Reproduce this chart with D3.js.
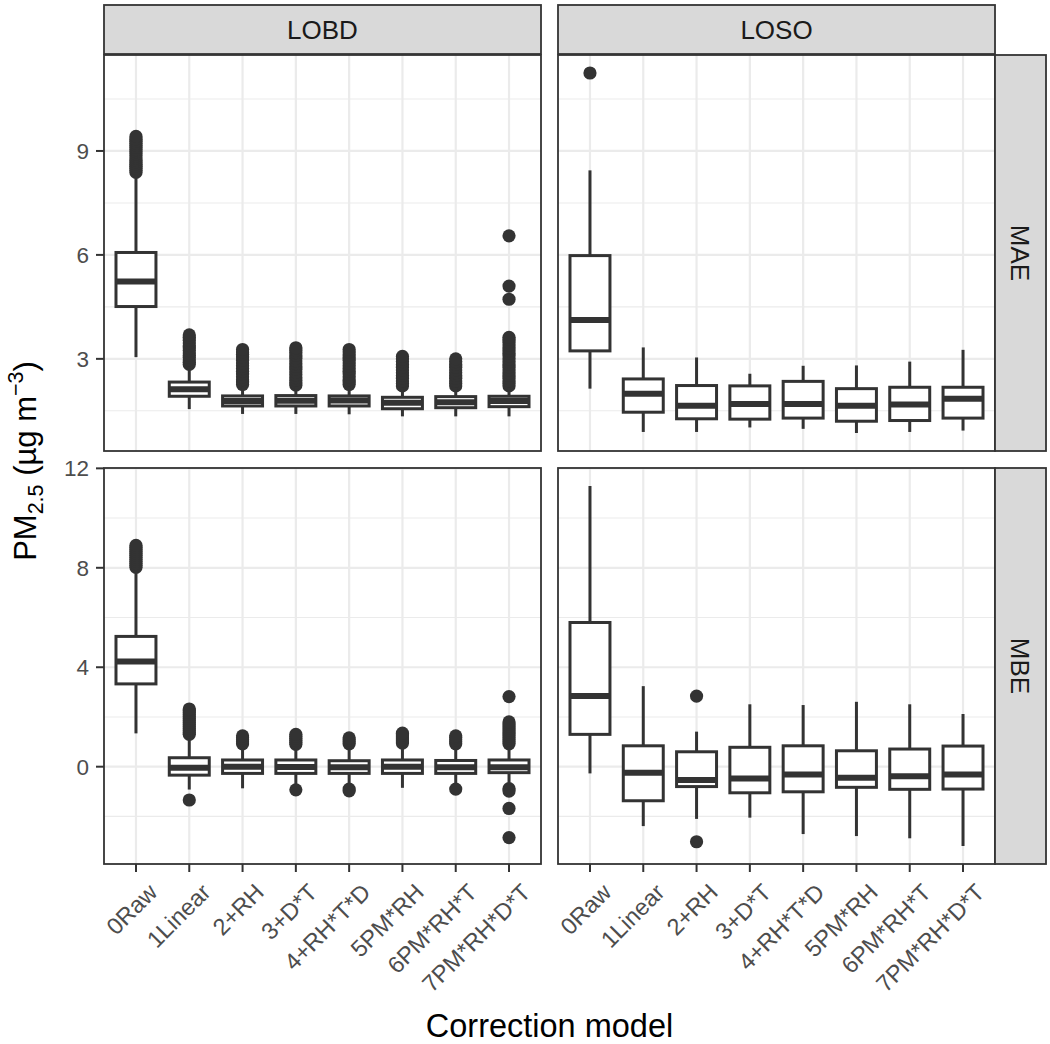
<!DOCTYPE html>
<html><head><meta charset="utf-8">
<script src="https://cdn.jsdelivr.net/npm/d3@7"></script>
<style>body{margin:0;background:#fff}</style>
</head><body>
<svg id="chart" width="1050" height="1044"></svg>
<script>
// ---------------- DATA ----------------
const categories = ["0Raw","1Linear","2+RH","3+D*T","4+RH*T*D","5PM*RH","6PM*RH*T","7PM*RH*D*T"];
const colFacets = ["LOBD","LOSO"];
const rowFacets = ["MAE","MBE"];
const yTicksMAE = [3, 6, 9];
const yMinorMAE = [1.5, 4.5, 7.5, 10.5];
const yTicksMBE = [0, 4, 8, 12];
const yMinorMBE = [-2, 2, 6, 10];

// LOBD – MAE
const lobdMaeLow  = [3.05, 1.55, 1.41, 1.41, 1.40, 1.34, 1.34, 1.34];
const lobdMaeQ1   = [4.51, 1.92, 1.64, 1.64, 1.64, 1.56, 1.59, 1.62];
const lobdMaeMed  = [5.23, 2.12, 1.78, 1.79, 1.80, 1.73, 1.75, 1.78];
const lobdMaeQ3   = [6.07, 2.33, 1.93, 1.94, 1.93, 1.89, 1.91, 1.92];
const lobdMaeHigh = [8.33, 2.78, 2.20, 2.20, 2.20, 2.17, 2.17, 2.17];
const lobdMaeOut  = [
  [8.38,8.44,8.5,8.56,8.62,8.68,8.74,8.8,8.86,8.92,8.98,9.04,9.1,9.16,9.22,9.28,9.34,9.42],
  [2.84,2.9,2.97,3.04,3.1,3.17,3.24,3.31,3.38,3.46,3.54,3.62,3.69],
  [2.26,2.33,2.4,2.48,2.56,2.64,2.72,2.8,2.88,2.96,3.05,3.13,3.2,3.27],
  [2.24,2.31,2.38,2.46,2.54,2.62,2.7,2.78,2.86,2.94,3.02,3.1,3.18,3.25,3.32],
  [2.26,2.33,2.4,2.48,2.56,2.64,2.72,2.8,2.88,2.96,3.04,3.12,3.2,3.27],
  [2.22,2.29,2.36,2.44,2.52,2.6,2.68,2.76,2.84,2.92,3.0,3.07],
  [2.22,2.29,2.36,2.44,2.52,2.6,2.68,2.76,2.84,2.92,3.0],
  [2.22,2.29,2.36,2.44,2.52,2.6,2.68,2.76,2.84,2.92,3.0,3.08,3.16,3.24,3.32,3.4,3.48,3.56,3.62,4.72,5.1,6.55]
];

// LOSO – MAE
const losoMaeLow  = [2.14, 0.89, 0.89, 1.02, 0.98, 0.86, 0.89, 0.93];
const losoMaeQ1   = [3.23, 1.46, 1.27, 1.26, 1.29, 1.20, 1.22, 1.29];
const losoMaeMed  = [4.12, 1.99, 1.65, 1.70, 1.70, 1.65, 1.68, 1.85];
const losoMaeQ3   = [5.98, 2.42, 2.23, 2.22, 2.35, 2.14, 2.18, 2.18];
const losoMaeHigh = [8.44, 3.33, 3.04, 2.57, 2.80, 2.81, 2.92, 3.26];
const losoMaeOut  = [[11.25],[],[],[],[],[],[],[]];

// LOBD – MBE
const lobdMbeLow  = [1.34, -0.92, -0.87, -0.75, -0.78, -0.85, -0.72, -0.72];
const lobdMbeQ1   = [3.33, -0.34, -0.27, -0.27, -0.27, -0.27, -0.27, -0.24];
const lobdMbeMed  = [4.23, -0.04, 0.00, -0.01, -0.02, 0.00, -0.02, -0.02];
const lobdMbeQ3   = [5.24, 0.36, 0.27, 0.27, 0.24, 0.27, 0.25, 0.27];
const lobdMbeHigh = [7.95, 1.15, 0.75, 0.78, 0.75, 0.82, 0.75, 0.80];
const lobdMbeOut  = [
  [8.02,8.1,8.18,8.26,8.34,8.42,8.5,8.58,8.66,8.74,8.82,8.9],
  [1.3,1.38,1.46,1.54,1.62,1.7,1.78,1.86,1.94,2.02,2.1,2.18,2.26,2.32,-1.34],
  [0.92,1.0,1.08,1.16,1.24],
  [0.9,0.98,1.06,1.14,1.22,1.3,-0.93],
  [0.92,1.0,1.08,1.16,-0.9,-0.97],
  [0.95,1.03,1.11,1.19,1.27,1.35],
  [0.92,1.0,1.08,1.17,1.24,-0.9],
  [0.92,1.0,1.08,1.16,1.24,1.32,1.4,1.48,1.56,1.64,1.72,1.8,2.82,-0.88,-0.98,-1.68,-2.85]
];

// LOSO – MBE
const losoMbeLow  = [-0.27, -2.39, -2.10, -2.05, -2.71, -2.79, -2.88, -3.19];
const losoMbeQ1   = [1.30, -1.37, -0.80, -1.05, -1.01, -0.83, -0.91, -0.90];
const losoMbeMed  = [2.84, -0.24, -0.54, -0.47, -0.31, -0.44, -0.38, -0.31];
const losoMbeQ3   = [5.80, 0.84, 0.60, 0.78, 0.84, 0.64, 0.71, 0.83];
const losoMbeHigh = [11.29, 3.24, 1.41, 2.51, 2.48, 2.61, 2.51, 2.12];
const losoMbeOut  = [[],[],[2.84,-3.02],[],[],[],[],[]];

// ---------------- LAYOUT ----------------
const FONT = "'Liberation Sans', Arial, Helvetica, sans-serif";
const colX = [104, 558];
const rowY = [55, 468];
const panelW = 437, panelH = 396;
const stripTop = 5, stripH = 49;
const rStripX = 995, rStripW = 51;
const dark = "#333333", grid = "#ebebeb";

function makePanel(low,q1,med,q3,high,out){
  return categories.map((c,i)=>({cat:c,i,low:low[i],q1:q1[i],med:med[i],q3:q3[i],high:high[i],out:out ? out[i] : []}));
}
const panels = [
  {col:0,row:0,data:makePanel(lobdMaeLow,lobdMaeQ1,lobdMaeMed,lobdMaeQ3,lobdMaeHigh,lobdMaeOut)},
  {col:1,row:0,data:makePanel(losoMaeLow,losoMaeQ1,losoMaeMed,losoMaeQ3,losoMaeHigh,losoMaeOut)},
  {col:0,row:1,data:makePanel(lobdMbeLow,lobdMbeQ1,lobdMbeMed,lobdMbeQ3,lobdMbeHigh,lobdMbeOut)},
  {col:1,row:1,data:makePanel(losoMbeLow,losoMbeQ1,losoMbeMed,losoMbeQ3,losoMbeHigh,losoMbeOut)}
];

// y scales (free per row, ggplot 5% expansion)
const yScales = [0,1].map(r=>{
  const vals = [];
  panels.filter(p=>p.row===r).forEach(p=>p.data.forEach(d=>{vals.push(d.low,d.high,...d.out);}));
  const [mn,mx] = d3.extent(vals);
  const pad = (mx-mn)*0.05;
  return d3.scaleLinear().domain([mn-pad,mx+pad]).range([panelH,0]);
});
const yMajor = [yTicksMAE, yTicksMBE];
const yMinor = [yMinorMAE, yMinorMBE];

// discrete x (ggplot expand 0.6)
const x = d3.scaleLinear().domain([-0.6, categories.length - 1 + 0.6]).range([0, panelW]);
const boxHalf = (x(0.375) - x(0));

const svg = d3.select("#chart");
svg.append("rect").attr("width",1050).attr("height",1044).attr("fill","#fff");

panels.forEach(p=>{
  const y = yScales[p.row];
  const g = svg.append("g").attr("transform",`translate(${colX[p.col]},${rowY[p.row]})`);
  g.append("rect").attr("width",panelW).attr("height",panelH).attr("fill","#fff");
  g.selectAll(".minor").data(yMinor[p.row]).enter().append("line")
    .attr("x1",0).attr("x2",panelW).attr("y1",d=>y(d)).attr("y2",d=>y(d))
    .attr("stroke",grid).attr("stroke-width",1.1);
  g.selectAll(".major").data(yMajor[p.row]).enter().append("line")
    .attr("x1",0).attr("x2",panelW).attr("y1",d=>y(d)).attr("y2",d=>y(d))
    .attr("stroke",grid).attr("stroke-width",2.2);
  g.selectAll(".vgrid").data(categories).enter().append("line")
    .attr("x1",(d,i)=>x(i)).attr("x2",(d,i)=>x(i)).attr("y1",0).attr("y2",panelH)
    .attr("stroke",grid).attr("stroke-width",2.2);

  const bx = g.selectAll(".box").data(p.data).enter().append("g");
  bx.each(function(d){
    d3.select(this).selectAll("circle").data(d.out).enter().append("circle")
      .attr("cx",x(d.i)).attr("cy",v=>y(v)).attr("r",6.6).attr("fill",dark);
  });
  bx.append("line").attr("x1",d=>x(d.i)).attr("x2",d=>x(d.i))
    .attr("y1",d=>y(d.q3)).attr("y2",d=>y(d.high)).attr("stroke",dark).attr("stroke-width",3);
  bx.append("line").attr("x1",d=>x(d.i)).attr("x2",d=>x(d.i))
    .attr("y1",d=>y(d.q1)).attr("y2",d=>y(d.low)).attr("stroke",dark).attr("stroke-width",3);
  bx.append("rect").attr("x",d=>x(d.i)-boxHalf).attr("width",boxHalf*2)
    .attr("y",d=>y(d.q3)).attr("height",d=>y(d.q1)-y(d.q3))
    .attr("fill","#fff").attr("stroke",dark).attr("stroke-width",3);
  bx.append("line").attr("x1",d=>x(d.i)-boxHalf).attr("x2",d=>x(d.i)+boxHalf)
    .attr("y1",d=>y(d.med)).attr("y2",d=>y(d.med)).attr("stroke",dark).attr("stroke-width",6);
  g.append("rect").attr("width",panelW).attr("height",panelH).attr("fill","none")
    .attr("stroke",dark).attr("stroke-width",1.8);

  if (p.col===0){
    yMajor[p.row].forEach(t=>{
      svg.append("line").attr("x1",colX[0]-8).attr("x2",colX[0])
        .attr("y1",rowY[p.row]+y(t)).attr("y2",rowY[p.row]+y(t)).attr("stroke",dark).attr("stroke-width",2);
      svg.append("text").attr("x",colX[0]-15).attr("y",rowY[p.row]+y(t)).attr("dy","0.36em")
        .attr("text-anchor","end").attr("font-family",FONT).attr("font-size",22.5).attr("fill","#4d4d4d").text(t);
    });
  }
  if (p.row===1){
    categories.forEach((c,i)=>{
      const xx = colX[p.col]+x(i);
      svg.append("line").attr("x1",xx).attr("x2",xx).attr("y1",rowY[1]+panelH).attr("y2",rowY[1]+panelH+8)
        .attr("stroke",dark).attr("stroke-width",2);
      svg.append("text").attr("transform",`translate(${xx+11},${rowY[1]+panelH+18}) rotate(-45)`)
        .attr("dy","0.71em").attr("text-anchor","end").attr("font-family",FONT).attr("font-size",23.5)
        .attr("fill","#4d4d4d").text(c);
    });
  }
});

colFacets.forEach((f,c)=>{
  svg.append("rect").attr("x",colX[c]).attr("y",stripTop).attr("width",panelW).attr("height",stripH)
    .attr("fill","#d9d9d9").attr("stroke",dark).attr("stroke-width",1.8);
  svg.append("text").attr("x",colX[c]+panelW/2).attr("y",stripTop+stripH/2).attr("dy","0.36em")
    .attr("text-anchor","middle").attr("font-family",FONT).attr("font-size",26).attr("fill","#1a1a1a").text(f);
});
rowFacets.forEach((f,r)=>{
  svg.append("rect").attr("x",rStripX).attr("y",rowY[r]).attr("width",rStripW).attr("height",panelH)
    .attr("fill","#d9d9d9").attr("stroke",dark).attr("stroke-width",1.8);
  svg.append("text").attr("transform",`translate(${rStripX+rStripW/2},${rowY[r]+panelH/2}) rotate(90)`)
    .attr("dy","0.36em").attr("text-anchor","middle").attr("font-family",FONT).attr("font-size",26)
    .attr("fill","#1a1a1a").text(f);
});

svg.append("text").attr("x",(colX[0]+colX[1]+panelW)/2).attr("y",1037).attr("text-anchor","middle")
  .attr("font-family",FONT).attr("font-size",32.5).attr("fill","#000").text("Correction model");

const yt = svg.append("text").attr("transform","translate(36,461) rotate(-90)").attr("text-anchor","middle")
  .attr("font-family",FONT).attr("font-size",31).attr("fill","#000");
yt.append("tspan").text("PM");
yt.append("tspan").attr("dy",7).attr("font-size",21.5).text("2.5");
yt.append("tspan").attr("dy",-7).text(" (µg m");
yt.append("tspan").attr("dy",-13).attr("font-size",21.5).text("\u22123");
yt.append("tspan").attr("dy",13).text(")");
</script>
</body></html>
